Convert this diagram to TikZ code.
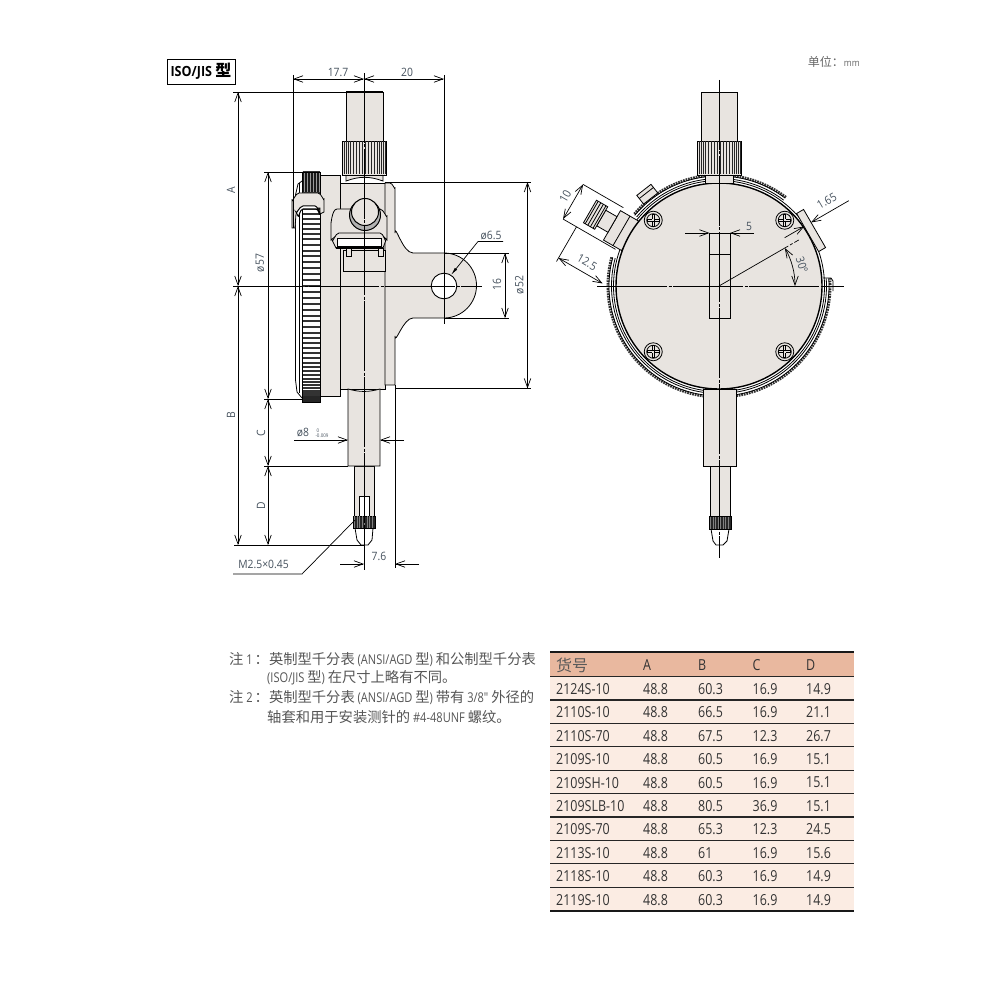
\documentclass[tikz,border=0pt]{standalone}
\usepackage{fontspec}
\setmainfont{Open Sans}[FakeStretch=0.9]
\newfontfamily\narrowfont{Open Sans}[FakeStretch=0.82]
\newfontfamily\cjk{Noto Sans CJK SC}
\newcommand{\zh}[1]{{\cjk #1}}
\newcommand{\zn}[1]{{\fontsize{14.3}{14}\selectfont\cjk #1}}
\usetikzlibrary{arrows.meta}
\definecolor{facegrey}{HTML}{E8E4E0}
\definecolor{labelgrey}{HTML}{46525E}
\definecolor{notegrey}{HTML}{555555}
\definecolor{headsalmon}{HTML}{E9B89F}
\definecolor{rowcream}{HTML}{FBECE3}
\tikzset{
  part/.style={draw=black, line width=.8pt, fill=facegrey},
  ext/.style={draw=black, line width=.7pt},
  axis/.style={draw=black, line width=.7pt, dash pattern=on 70pt off 1.5pt on 3pt off 1.5pt},
  dimline/.style={draw=black, line width=.7pt, <->, >={Straight Barb[length=9pt,width=6.5pt]}},
  dimin/.style={draw=black, line width=.7pt, ->, >={Straight Barb[length=9pt,width=6.5pt]}},
  dimtext/.style={text=labelgrey, font=\fontsize{11.5}{12}\selectfont, inner sep=0pt},
  ring/.style={draw=black, line width=.8pt},
  knurl/.style={draw=black!80, line width=2.6pt, dash pattern=on 1.7pt off .9pt},
  notetext/.style={text=notegrey, anchor=west, inner sep=0pt, font=\narrowfont\fontsize{13.5}{14}\selectfont},
  cell/.style={text=black!80, anchor=west, inner sep=0pt, font=\narrowfont\fontsize{15.2}{16}\selectfont},
  rowrule/.style={draw=black!85, line width=1.2pt}
}
\begin{document}
\begin{tikzpicture}[x=1pt,y=-1pt]
\useasboundingbox (0,0) rectangle (1000,1000);

\node [draw, line width=.9pt, minimum width=68pt, minimum height=25pt, inner sep=0pt, font=\bfseries\fontsize{14}{14}\selectfont] (typebox) at (201,71.5) {ISO/JIS {\fontsize{16}{16}\selectfont\zh{型}}};
\node [text=black!60, anchor=east, inner sep=0pt, font=\fontsize{9.5}{10}\selectfont] (unit) at (860,62) {{\fontsize{12}{12}\selectfont\zh{单位：}}mm};

% side view
\draw [part] (320,175) -- (340,175) -- (340,396) -- (320,396) -- cycle;
\draw [part] (340,183) -- (385,183) -- (385,389) -- (340,389) -- cycle;
\draw [part] (385,183) -- (390,183) to[out=0,in=-90] (395,188) -- (395,233) to[out=90,in=180] (413,253) -- (444,253) arc[start angle=-90,end angle=90,radius=32.5] -- (413,318) to[out=180,in=-90] (395,336) -- (395,385) -- (385,385) -- cycle;
\draw [fill=white, line width=.9pt] (444,286) circle [radius=12.8];
\draw [ring] (302,181) -- (298,184) -- (295.5,195) -- (295.5,380) -- (297,392) -- (302,398);
\draw [ring] (299,183) -- (299,393);
\draw [fill=white, line width=.8pt] (302,172) rectangle (320,402);
\foreach \a in {-87,-84,...,87}
  \draw [black!80, line width=1.9pt] (302.5,{286+114.5*sin(\a)}) -- (319.5,{286+114.5*sin(\a)});
\draw [fill=black!90, draw=none] (302,172) rectangle (320,192);
\foreach \k in {304,307,...,319}
  \draw [white!60!black, line width=.4pt] (\k,173) -- (\k,192);
\fill [black!85] (302,396) rectangle (320,402);
\draw [ring, line width=1pt] (302,172) -- (302,402);
\draw [ring, line width=1pt] (320,172) -- (320,402);
\draw [part] (292,228) -- (292,200) to[out=-90,in=180] (299,193) -- (318,193) to[out=0,in=-90] (324,199) -- (324,212) -- (320,214) -- (320,208) -- (300,208) -- (296,214) -- (295,228) -- cycle;
\draw [fill=white, line width=1pt] (298,216) to[out=-80,in=180] (303,209) -- (316,209) to[out=0,in=-100] (320,214) -- (319,210) to[out=-90,in=0] (315,206) -- (303,206) to[out=180,in=-90] (296,212) -- cycle;

\draw [part] (343,250) rectangle (385,271);
\draw [part] (331,222) to[out=-90,in=180] (337,209) -- (350,209) -- (380,209) to[out=0,in=-90] (387,216) -- (387,240) -- (383,236) -- (336,236) -- (331,240) -- cycle;
\draw [part] (332,240) to[out=-80,in=180] (339,233) -- (380,233) to[out=0,in=-100] (386,240) -- (383,248) -- (336,248) -- cycle;
\draw [fill=white, line width=.8pt] (337,238) rectangle (381,246);
\draw [line width=1.6pt] (336,248) -- (383,248);
\draw [part] (346,248) rectangle (351,256);
\draw [part] (378,248) rectangle (383,256);
\draw [draw=black, line width=1pt, fill=black!30] (365,215) circle [radius=15.5];
\draw [part, line width=1pt] (365,212) circle [radius=13.5];

\draw [part] (346,92) rectangle (383,141);
\draw [line width=1.6pt] (346,92) -- (383,92);
\draw [part] (346,175) -- (346,181) to[out=20,in=160] (383,181) -- (383,175) -- cycle;
\draw [part] (342,141) rectangle (386,175);
\foreach \k in {344,346,348,350,353,356,359,362,365,368,371,374,377,379,381,383,385}
  \draw [black!85, line width=.7pt] (\k,141.5) -- (\k,174.5);
\draw [part] (354,466) rectangle (374,517);
\draw [part] (348,389) to[out=-15,in=-165] (380,389) -- (380,466) -- (348,466) -- cycle;
\draw [part, fill=white] (359,496) rectangle (369,517);
\draw [part, fill=white] (355,528) -- (357,540) -- (361,545) -- (368,545) -- (372,540) -- (373,528) -- cycle;
\draw [fill=black!85, line width=.6pt] (353,516) rectangle (375,528);
\foreach \k in {354.5,357,...,374}
  \draw [white!50!black, line width=.3pt] (\k,516) -- (\k,528);

\draw [axis] (364,73) -- (364,570);
\draw [axis] (233,286) -- (482,286);

\coordinate (ea1) at (293,75);
\coordinate (ea2) at (293,228);
\coordinate (eb1) at (444,75);
\coordinate (eb2) at (444,324);
\coordinate (ec1) at (233,92);
\coordinate (ec2) at (346,92);
\coordinate (ed1) at (385,182);
\coordinate (ed2) at (531,182);
\coordinate (ee1) at (395,388.5);
\coordinate (ee2) at (531,388.5);
\coordinate (ef1) at (395,385);
\coordinate (ef2) at (395,568);
\coordinate (eg1) at (264,172);
\coordinate (eg2) at (320,172);
\coordinate (eh1) at (264,399);
\coordinate (eh2) at (302,399);
\coordinate (ei1) at (264,466);
\coordinate (ei2) at (348,466);
\coordinate (ej1) at (234,545);
\coordinate (ej2) at (364,545);
\coordinate (ek1) at (444,253);
\coordinate (ek2) at (509,253);
\coordinate (el1) at (444,318);
\coordinate (el2) at (509,318);
\foreach \p in {a,b,c,d,e,f,g,h,i,j,k,l}
  \draw [ext] (e\p1) -- (e\p2);

\coordinate (dtl) at (293,79);
\coordinate (dtm) at (364,79);
\coordinate (dtr) at (444,79);
\draw [dimline] (dtl) -- (dtm);
\draw [dimline] (dtm) -- (dtr);
\node [dimtext] (w177) at (338,72.5) {17.7};
\node [dimtext] (w20) at (407,72.5) {20};

\coordinate (da1) at (238,92);
\coordinate (da2) at (238,286);
\coordinate (da3) at (238,545);
\draw [dimline] (da1) -- (da2);
\draw [dimline] (da2) -- (da3);
\node [dimtext, rotate=90] (la) at (231,190) {A};
\node [dimtext, rotate=90] (lb) at (231,415) {B};

\coordinate (dq1) at (268,172);
\coordinate (dq2) at (268,399);
\coordinate (dq3) at (268,466);
\coordinate (dq4) at (268,545);
\draw [dimline] (dq1) -- (dq2);
\draw [dimline] (dq2) -- (dq3);
\draw [dimline] (dq3) -- (dq4);
\node [dimtext, rotate=90] (d57) at (260,263) {ø57};
\node [dimtext, rotate=90] (lc) at (261,433) {C};
\node [dimtext, rotate=90] (ld) at (261,506) {D};

\coordinate (dr1) at (505,253);
\coordinate (dr2) at (505,318);
\draw [dimline] (dr1) -- (dr2);
\node [dimtext, rotate=90] (h16) at (497,285) {16};
\coordinate (ds1) at (527.5,182);
\coordinate (ds2) at (527.5,388.5);
\draw [dimline] (ds1) -- (ds2);
\node [dimtext, rotate=90] (d52) at (519.5,285) {ø52};

\node [dimtext] (d65) at (491,235.5) {ø6.5};
\coordinate (lh1) at (503,241.5);
\coordinate (lh2) at (478,241.5);
\coordinate (lh3) at (451,275);
\draw [ext, -{Latex[length=8pt,width=3pt]}] (lh1) -- (lh2) -- (lh3);

\coordinate (st1) at (294,440);
\coordinate (st2) at (348,440);
\coordinate (st3) at (404,440);
\coordinate (st4) at (380,440);
\draw [dimin] (st1) -- (st2);
\draw [dimin] (st3) -- (st4);
\node [dimtext] (d8) at (303,433) {ø8};
\node [text=labelgrey, align=center, inner sep=0pt, font=\fontsize{5}{5.2}\selectfont] (tol) at (322,433) {\hspace{-8pt}0\\-0.009};

\coordinate (tp1) at (340,564);
\coordinate (tp2) at (364,564);
\coordinate (tp3) at (419,564);
\coordinate (tp4) at (395,564);
\draw [dimin] (tp1) -- (tp2);
\draw [dimin] (tp3) -- (tp4);
\node [dimtext] (w76) at (379,556) {7.6};
\node [dimtext] (thread) at (263.5,564) {M2.5×0.45};
\coordinate (th1) at (233,574);
\coordinate (th2) at (302,574);
\coordinate (th3) at (355,520);
\draw [ext] (th1) -- (th2) -- (th3);

% front view
\draw [part] (701,92.5) rectangle (737,141);
\draw [line width=1.6pt] (701,92.5) -- (737,92.5);
\begin{scope}[shift={(719,286)},y=1pt]
\draw [ring] (0,0) circle [radius=105.5];
\foreach \s/\e in {53/140,165/364} {
  \draw [knurl] (\s:111.2) arc [start angle=\s,end angle=\e,radius=111.2];
  \draw [ring] (\s:110) arc [start angle=\s,end angle=\e,radius=110];
  \draw [ring] (\s:107.5) arc [start angle=\s,end angle=\e,radius=107.5];
}
\draw [ring] (104,8) -- (112,8) -- (114,5) -- (114,-5);
\begin{scope}[rotate=128]
\draw [part] (111,-9) rectangle (122,9);
\draw [ring] (118,-9) -- (118,9);
\end{scope}
\begin{scope}[rotate=150]
\draw [part] (102,-16) rectangle (123,18);
\draw [ring] (112,-16) -- (112,18);
\draw [part] (123,-9) rectangle (136,9);
\draw [part] (136,-13) rectangle (149,13);
\foreach \k in {138,141,144,147}
  \draw [ring] (\k,-13) -- (\k,13);
\end{scope}
\draw [part, line width=1.4pt] (0,0) circle [radius=103];
\begin{scope}[rotate=30]
\draw [part] (103.5,-20) rectangle (111.5,24);
\end{scope}
\foreach \s in {45,135,225,315} {
  \draw [part] (\s:93) circle [radius=9];
  \draw [ring] (\s:93) ++(-6,-1) rectangle ++(12,2);
  \draw [ring] (\s:93) ++(-1,-6) rectangle ++(2,12);
  \draw [ring] (\s:93) circle [radius=6.5];
  \fill [facegrey] (\s:93) ++(-.8,-.8) rectangle ++(1.6,1.6);
}
\end{scope}
\draw [part] (697,141) rectangle (741,175);
\foreach \k in {699,701,703,705,708,711,714,717,720,723,726,729,732,734,736,738,740}
  \draw [black!85, line width=.7pt] (\k,141.5) -- (\k,174.5);
\draw [part] (705,175) rectangle (733,183);
\draw [part] (710,466) rectangle (730,517);
\draw [part] (703,389) rectangle (736,466.5);
\draw [part, fill=white] (711,529) -- (713,541) -- (716,545) -- (723,545) -- (727,541) -- (729,529) -- cycle;
\draw [fill=black!85, line width=.6pt] (709,516.5) rectangle (731,529);
\foreach \k in {710.5,713,...,730}
  \draw [white!50!black, line width=.3pt] (\k,516.5) -- (\k,529);
\draw [part] (709.5,233) rectangle (730,318);
\draw [ring] (709.5,254) -- (730,254);

\draw [axis] (719,80) -- (719,558);
\draw [axis] (597,286) -- (844,286);

\coordinate (fv1) at (685,233);
\coordinate (fv2) at (709.5,233);
\coordinate (fv3) at (754,233);
\coordinate (fv4) at (730,233);
\draw [dimin] (fv1) -- (fv2);
\draw [dimin] (fv3) -- (fv4);
\node [dimtext] (w5) at (749,226) {5};

\begin{scope}[shift={(719,286)},y=1pt]
\coordinate (ang1) at (0:76);
\draw [dimline] (ang1) arc [start angle=0,end angle=30,radius=76];
\node [dimtext, rotate=-72] (deg30) at (83,21) {30°};
\coordinate (cen) at (0,0);
\coordinate (ray) at (30:92);
\draw [ext, dash pattern=on 80pt off 2pt on 3pt off 2pt] (cen) -- (ray);
\begin{scope}[rotate=30]
\coordinate (ri1) at (81,9);
\coordinate (ri2) at (103.5,9);
\coordinate (ro1) at (155,9);
\coordinate (ro2) at (111.5,9);
\draw [dimin] (ri1) -- (ri2);
\draw [dimin] (ro1) -- (ro2);
\node [dimtext, rotate=30] (w165) at (136,20) {1.65};
\end{scope}
\begin{scope}[rotate=150]
\coordinate (ta1) at (122,-20);
\coordinate (ta2) at (168.5,-20);
\coordinate (ta3) at (168.5,20);
\coordinate (ta4) at (108,20);
\draw [ext] (ta1) -- (ta2);
\draw [ext] (ta3) -- (ta4);
\draw [dimline] (ta2) -- (ta3);
\coordinate (tb1) at (153,20);
\coordinate (tb2) at (153,60);
\draw [ext] (tb1) -- (tb2);
\coordinate (tc1) at (153,56);
\coordinate (tc2) at (102,56);
\draw [dimline] (tc1) -- (tc2);
\node [dimtext, rotate=60] (w10) at (178,-1) {10};
\node [dimtext, rotate=-30] (w125) at (126,45.5) {12.5};
\end{scope}
\end{scope}

% notes
\node [notetext] (note1) at (229,660) {\zn{注} 1\hspace{2pt}\zn{：英制型千分表} (ANSI/AGD \zn{型}) \zn{和公制型千分表}};
\node [notetext] (note1b) at (267,678) {(ISO/JIS \zn{型}) \zn{在尺寸上略有不同。}};
\node [notetext] (note2) at (229,698) {\zn{注} 2\hspace{2pt}\zn{：英制型千分表} (ANSI/AGD \zn{型}) \zn{带有} 3/8" \zn{外径的}};
\node [notetext] (note2b) at (267,717) {\zn{轴套和用于安装测针的} \#4-48UNF \zn{螺纹。}};

% table
\fill [headsalmon] (550,652) rectangle (854,677);
\fill [rowcream] (550,677) rectangle (854,911);
\node [cell, text=black!65, font=\fontsize{16}{16}\selectfont] (hno) at (556,665) {\zh{货号}};
\node [cell] (ha) at (643,665) {A};
\node [cell] (hb) at (698,665) {B};
\node [cell] (hc) at (752.5,665) {C};
\node [cell] (hd) at (806,665) {D};
\foreach \n/\no/\va/\vb/\vc/\vd in {0/2124S-10/48.8/60.3/16.9/14.9, 1/2110S-10/48.8/66.5/16.9/21.1, 2/2110S-70/48.8/67.5/12.3/26.7, 3/2109S-10/48.8/60.5/16.9/15.1, 4/2109SH-10/48.8/60.5/16.9/15.1, 5/2109SLB-10/48.8/80.5/36.9/15.1, 6/2109S-70/48.8/65.3/12.3/24.5, 7/2113S-10/48.8/61/16.9/15.6, 8/2118S-10/48.8/60.3/16.9/14.9, 9/2119S-10/48.8/60.3/16.9/14.9} {
  \node [cell] (no\n) at (556,{689+23.4*\n}) {\no};
  \node [cell] (a\n) at (643,{689+23.4*\n}) {\va};
  \node [cell] (b\n) at (698,{689+23.4*\n}) {\vb};
  \node [cell] (c\n) at (752.5,{689+23.4*\n}) {\vc};
  \node [cell] (d\n) at (806,{689+23.4*\n}) {\vd};
  \draw [rowrule] (550,{676.6+23.4*(\n+1)}) -- (854,{676.6+23.4*(\n+1)});
}
\draw [black!90, line width=1.8pt] (550,652) -- (854,652);
\draw [rowrule, line width=1.3pt] (550,676.6) -- (854,676.6);
\draw [black!90, line width=1.8pt] (550,911) -- (854,911);
\end{tikzpicture}
\end{document}
